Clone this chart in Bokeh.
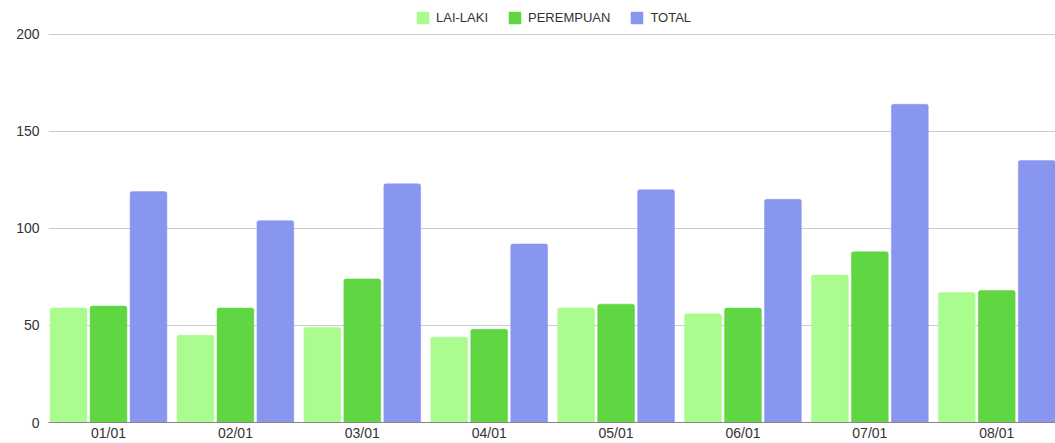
from bokeh.plotting import figure
from bokeh.models import ColumnDataSource, Range1d, FixedTicker, Legend, LegendItem
from bokeh.embed import file_html
from bokeh.resources import INLINE

categories = ["01/01", "02/01", "03/01", "04/01", "05/01", "06/01", "07/01", "08/01"]
laki = [59, 45, 49, 44, 59, 56, 76, 67]
perempuan = [60, 59, 74, 48, 61, 59, 88, 68]
total = [119, 104, 123, 92, 120, 115, 164, 135]
series_names = ["LAI-LAKI", "PEREMPUAN", "TOTAL"]
colors = ["#aafc8e", "#5fd642", "#8996ef"]
yticks = [0, 50, 100, 150, 200]

p = figure(width=1055, height=443, output_backend="svg", toolbar_location=None,
           x_range=Range1d(-0.473, 7.463), y_range=Range1d(0, 217.5),
           min_border_left=48, min_border_right=0, min_border_top=0, min_border_bottom=0)

idx = list(range(len(categories)))
offsets = [-0.315, 0.0, 0.315]
renderers = []
for vals, off, col in zip([laki, perempuan, total], offsets, colors):
    src = ColumnDataSource(dict(x=[i + off for i in idx], top=vals))
    r = p.vbar(x="x", top="top", width=0.29, bottom=0, source=src,
               fill_color=col, line_color=col, line_alpha=0.5, line_width=1,
               border_radius=(2, 2, 0, 0))
    renderers.append(r)

legend = Legend(items=[LegendItem(label=n, renderers=[r]) for n, r in zip(series_names, renderers)],
                orientation="horizontal", location=(367, 397),
                label_text_font="Liberation Sans", label_text_font_size="13px",
                label_text_color="#333333", glyph_width=15, glyph_height=15,
                label_standoff=6, spacing=19, padding=0, margin=0, label_height=15,
                border_line_color=None, background_fill_alpha=0)
p.add_layout(legend, "center")

p.xaxis.ticker = FixedTicker(ticks=idx)
p.xaxis.major_label_overrides = {i: c for i, c in enumerate(categories)}
p.xaxis.major_tick_line_color = None
p.xaxis.major_tick_out = 0
p.xaxis.major_tick_in = 0
p.xaxis.minor_tick_line_color = None
p.xaxis.axis_line_color = "#888888"
p.xaxis.major_label_text_font = "Liberation Sans"
p.xaxis.major_label_text_font_size = "14px"
p.xaxis.major_label_text_color = "#333333"
p.xaxis.major_label_standoff = 2

p.yaxis.ticker = FixedTicker(ticks=yticks)
p.yaxis.major_tick_line_color = None
p.yaxis.major_tick_out = 0
p.yaxis.major_tick_in = 0
p.yaxis.minor_tick_line_color = None
p.yaxis.axis_line_color = None
p.yaxis.major_label_text_font = "Liberation Sans"
p.yaxis.major_label_text_font_size = "14px"
p.yaxis.major_label_text_color = "#333333"
p.yaxis.major_label_standoff = 9

p.xgrid.grid_line_color = None
p.ygrid.ticker = FixedTicker(ticks=yticks)
p.ygrid.grid_line_color = "#cccccc"
p.outline_line_color = None

open("out.html", "w").write(file_html(p, INLINE))
